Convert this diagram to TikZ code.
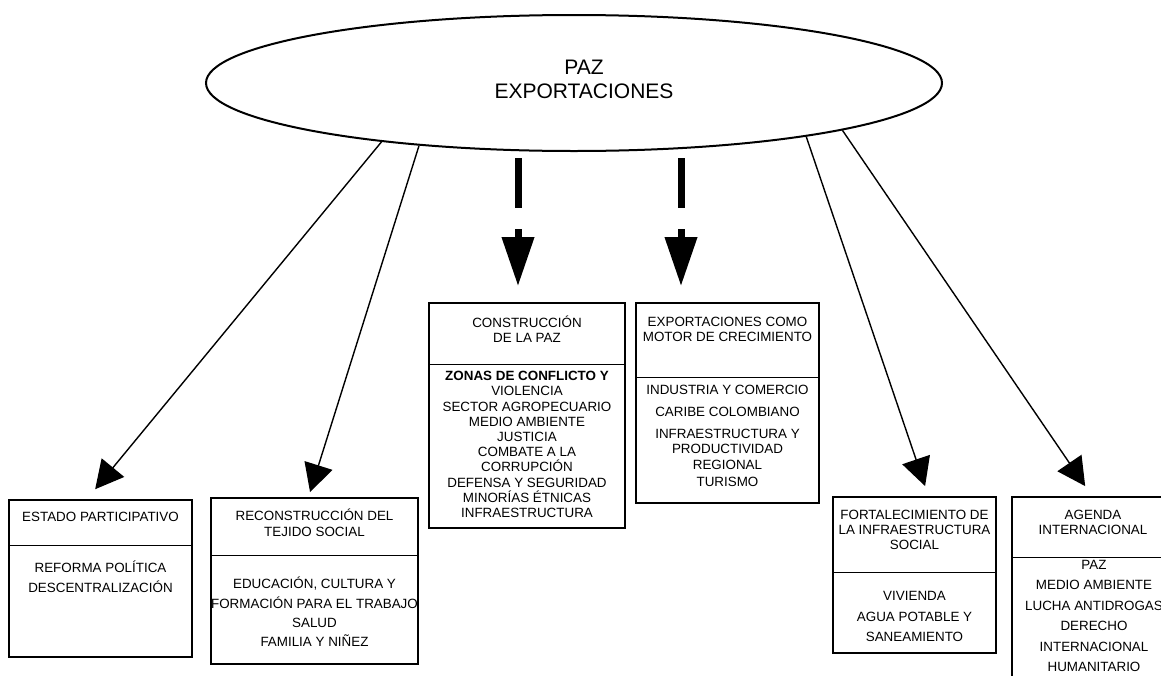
\documentclass[tikz,border=0pt]{standalone}
\usepackage{fontspec}
\setmainfont{Liberation Sans}
\usetikzlibrary{shapes.geometric,arrows.meta}

\begin{document}
\begin{tikzpicture}[x=1pt,y=-1pt,
  hub/.style={draw, ellipse, line width=2pt, minimum width=736pt, minimum height=136pt, inner sep=0pt},
  hubtext/.style={font=\fontsize{21}{24}\selectfont, align=center, inner sep=0pt},
  panel/.style={draw, line width=1.8pt, inner sep=0pt},
  sep/.style={line width=1pt},
  txt/.style={font=\fontsize{13.4}{15.6}\selectfont, align=center, inner sep=0pt},
  loose/.style={font=\fontsize{13.4}{20.4}\selectfont, align=center, inner sep=0pt},
  link/.style={line width=1.4pt, -{Triangle[length=28pt,width=29pt]}},
  fat/.style={line width=7pt, dash pattern=on 50pt off 21pt, -{Triangle[length=49pt,width=31pt]}, shorten >=16pt}]
\useasboundingbox (0,0) rectangle (1161,675);
\clip (0,0) rectangle (1161,675);

% centre
\node[hub] (paz) at (574,83) {};
\node[hubtext] (paztxt) at (584,79) {PAZ\\EXPORTACIONES};

% boxes
\node[panel, minimum width=183pt, minimum height=157pt] (est) at (100.5,578.5) {};
\node[panel, minimum width=207pt, minimum height=166pt] (rec) at (314.5,581) {};
\node[panel, minimum width=196pt, minimum height=225pt] (cons) at (527,415.5) {};
\node[panel, minimum width=183pt, minimum height=200pt] (expo) at (727.5,403) {};
\node[panel, minimum width=163pt, minimum height=156pt] (fort) at (914.5,575) {};
\node[panel, minimum width=162pt, minimum height=220pt] (agen) at (1093,607) {};

% dividers
\draw[sep] (est.west |- 0,545) -- (est.east |- 0,545);
\draw[sep] (rec.west |- 0,555) -- (rec.east |- 0,555);
\draw[sep] (cons.west |- 0,364) -- (cons.east |- 0,364);
\draw[sep] (expo.west |- 0,377) -- (expo.east |- 0,377);
\draw[sep] (fort.west |- 0,572) -- (fort.east |- 0,572);
\draw[sep] (agen.west |- 0,557) -- (agen.east |- 0,557);

% titles
\node[txt] (est-t) at (100.5,517) {ESTADO PARTICIPATIVO};
\node[txt] (rec-t) at (314.5,523) {RECONSTRUCCIÓN DEL\\TEJIDO SOCIAL};
\node[txt] (cons-t) at (527,329) {CONSTRUCCIÓN\\DE LA PAZ};
\node[txt] (expo-t) at (727.5,329.5) {EXPORTACIONES COMO\\MOTOR DE CRECIMIENTO};
\node[txt, font=\fontsize{13.4}{15}\selectfont] (fort-t) at (914.5,530) {FORTALECIMIENTO DE\\LA INFRAESTRUCTURA\\SOCIAL};
\node[txt] (agen-t) at (1093,522.5) {AGENDA\\INTERNACIONAL};

% items
\node[loose, font=\fontsize{13.4}{20}\selectfont] (est-i) at (100.5,577) {REFORMA POLÍTICA\\DESCENTRALIZACIÓN};
\node[loose, font=\fontsize{13.4}{19.3}\selectfont] (rec-i) at (314.5,612) {EDUCACIÓN, CULTURA Y\\FORMACIÓN PARA EL TRABAJO\\SALUD\\FAMILIA Y NIÑEZ};
\node[txt, font=\fontsize{13.4}{15.2}\selectfont] (cons-i) at (527,444.5) {\textbf{ZONAS DE CONFLICTO Y}\\VIOLENCIA\\SECTOR AGROPECUARIO\\MEDIO AMBIENTE\\JUSTICIA\\COMBATE A LA\\CORRUPCIÓN\\DEFENSA Y SEGURIDAD\\MINORÍAS ÉTNICAS\\INFRAESTRUCTURA};
\node[txt] (expo-i) at (727.5,435.5) {INDUSTRIA Y COMERCIO\\[6.4pt]CARIBE COLOMBIANO\\[6.4pt]INFRAESTRUCTURA Y\\PRODUCTIVIDAD\\REGIONAL\\[1.4pt]TURISMO};
\node[loose, font=\fontsize{13.4}{20.5}\selectfont] (fort-i) at (914.5,616.5) {VIVIENDA\\AGUA POTABLE Y\\SANEAMIENTO};
\node[loose] (agen-i) at (1094,616) {PAZ\\MEDIO AMBIENTE\\LUCHA ANTIDROGAS\\DERECHO\\INTERNACIONAL\\HUMANITARIO};

% arrows
\draw[link, shorten >=12.8pt] (paz.197) -- ([xshift=-13.5pt]est.north);
\draw[link, shorten >=5.2pt] (paz.202) -- ([xshift=-6pt]rec.north);
\draw[link, shorten >=10.6pt] (paz.-13) -- ([xshift=14pt]fort.north);
\draw[link, shorten >=12.1pt] (paz.-10) -- ([xshift=-1pt]agen.north);
\coordinate (g1) at (518,158);
\coordinate (g2) at (681,158);
\draw[fat] (g1) -- (g1 |- cons.north);
\draw[fat] (g2) -- (g2 |- expo.north);
\end{tikzpicture}
\end{document}
